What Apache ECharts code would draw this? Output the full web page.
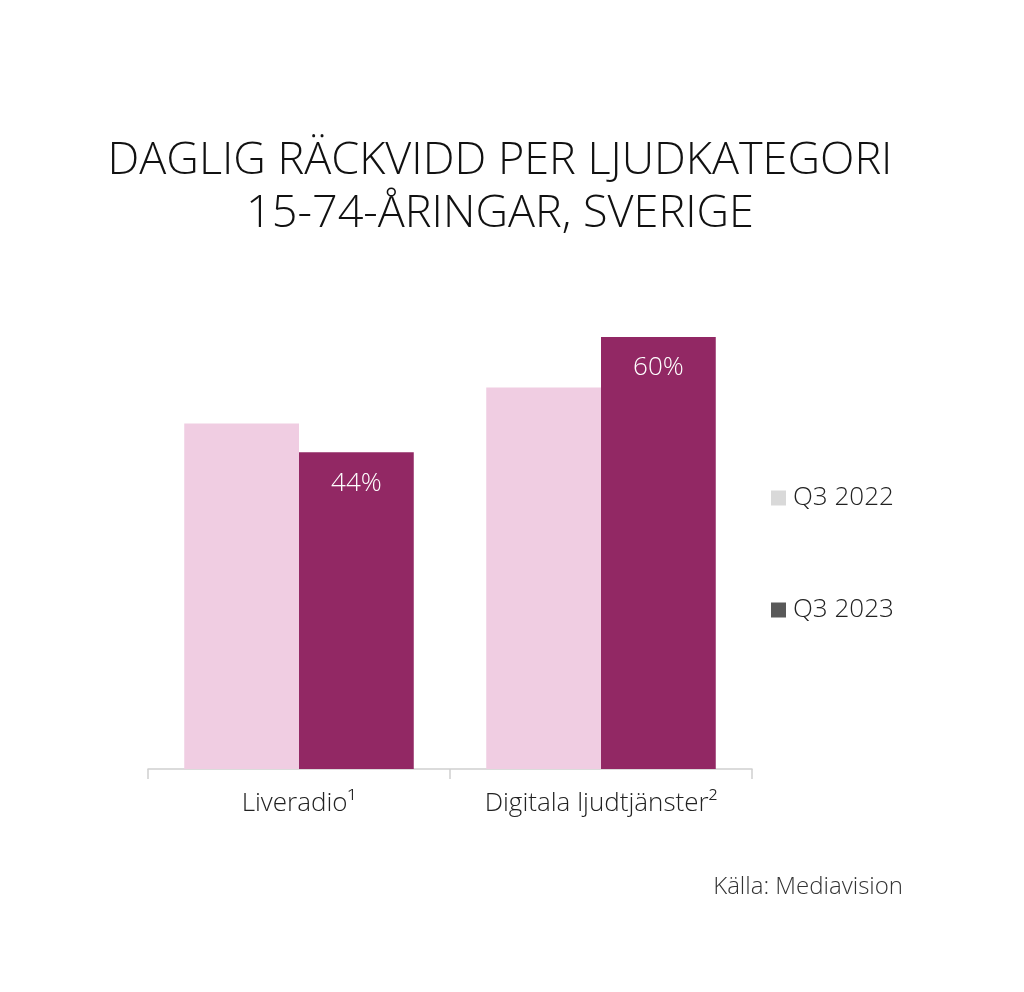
<!DOCTYPE html>
<html><head><meta charset="utf-8">
<script src="https://cdn.jsdelivr.net/npm/echarts@6/dist/echarts.min.js"></script>
<style>html,body{margin:0;padding:0;background:#fff}#c{width:1024px;height:992px}</style>
</head><body><div id="c"></div>
<script>
const categories = ['Liveradio¹', 'Digitala ljudtjänster²'];
const seriesNames = ['Q3 2022', 'Q3 2023'];
const q3_2022 = [48, 53];
const q3_2023 = [44, 60];
const titleLines = ['DAGLIG RÄCKVIDD PER LJUDKATEGORI', '15-74-ÅRINGAR, SVERIGE'];
const sourceText = 'Källa: Mediavision';

const FONT = '"Open Sans", Lato, sans-serif';
const chart = echarts.init(document.getElementById('c'), null, {renderer: 'canvas'});
chart.setOption({
  backgroundColor: '#ffffff',
  animation: false,
  legend: {
    orient: 'vertical',
    left: 766,
    top: 480,
    itemGap: 86,
    itemWidth: 15,
    itemHeight: 15,
    icon: 'rect',
    textStyle: {fontFamily: FONT, fontSize: 26, lineHeight: 26, fontWeight: 300, color: '#222', padding: [0, 0, 0, 2]},
    data: [
      {name: seriesNames[0], itemStyle: {color: '#d9d9d9'}},
      {name: seriesNames[1], itemStyle: {color: '#595959'}}
    ]
  },
  grid: {left: 148, right: 272, top: 265, bottom: 223, containLabel: false},
  xAxis: {
    type: 'category',
    data: categories,
    axisLine: {lineStyle: {color: '#cfcfcf', width: 1.5}},
    axisTick: {show: true, interval: 0, length: 10, lineStyle: {color: '#cfcfcf', width: 1.5}},
    axisLabel: {interval: 0, fontFamily: FONT, fontSize: 26, fontWeight: 300, color: '#222', margin: 22}
  },
  yAxis: {
    type: 'value', min: 0, max: 70,
    show: false, splitLine: {show: false}
  },
  series: [
    {
      name: seriesNames[0], type: 'bar', data: q3_2022,
      barGap: '0%', barCategoryGap: '24%',
      itemStyle: {color: '#f0cde2'}
    },
    {
      name: seriesNames[1], type: 'bar', data: q3_2023,
      itemStyle: {color: '#922864'},
      label: {
        show: true, position: 'insideTop', distance: 18,
        formatter: '{c}%', color: '#fff', fontFamily: FONT, fontWeight: 300, fontSize: 26
      }
    }
  ],
  graphic: [
    {
      type: 'text', x: 500, y: 135,
      style: {
        text: titleLines.join('\n'), fontFamily: FONT, fontSize: 45, fontWeight: 300,
        fill: '#111', lineHeight: 53, textAlign: 'center', textVerticalAlign: 'top'
      }
    },
    {
      type: 'text', right: 121, top: 875,
      style: {text: sourceText, fontFamily: FONT, fontSize: 24, fontWeight: 300, fill: '#333', textAlign: 'right'}
    }
  ]
});
</script></body></html>
